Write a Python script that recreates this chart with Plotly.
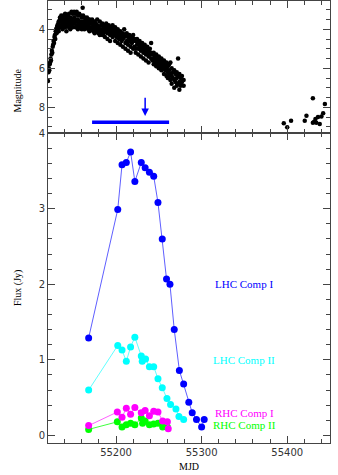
import plotly.graph_objects as go

# optical light curve (MJD, list of magnitudes read at that date)
lc_days = [55120.5, 55121, 55121.5, 55122, 55122.5, 55123, 55123.5, 55124, 55124.5, 55125,
           55125.5, 55126, 55126.5, 55127, 55127.5, 55128, 55128.5, 55129, 55129.5, 55130,
           55130.5, 55131, 55131.5, 55132, 55132.5,
           55133, 55134.5, 55136, 55137.5, 55139, 55140.5, 55142, 55143.5, 55145, 55146.5,
           55148, 55149.5, 55151, 55152.5, 55154, 55155.5, 55157, 55158.5, 55160, 55161,
           55161.5, 55163, 55164.5, 55166, 55167.5, 55169,
           55170.5, 55172, 55173.5, 55175, 55176.5, 55178, 55179.5, 55181, 55182.5, 55184,
           55185.5, 55187, 55188.5, 55190, 55191.5, 55193, 55194.5, 55196, 55197.5, 55199,
           55200.5, 55202, 55203.5, 55205, 55206.5, 55208, 55209.5, 55211, 55212.5, 55214,
           55215.5, 55217, 55218.5, 55220, 55221.5, 55223, 55224.5, 55226, 55227.5, 55229,
           55230.5, 55232, 55233.5, 55235, 55236.5, 55238, 55239.5, 55241, 55242.5, 55244,
           55245.5, 55247, 55248.5, 55250, 55251.5, 55253, 55254.5, 55256, 55257.5, 55259,
           55260.5, 55262, 55263.5, 55265, 55266.5, 55268, 55269.5, 55271, 55272.5, 55274,
           55275.5, 55277, 55279,
           55396, 55400, 55404.5, 55420.5, 55422.5, 55430, 55431.5, 55433, 55434, 55436,
           55438, 55440, 55442, 55444]
lc_mags = [[6.65], [6.2], [6.0], [6.1], [5.8], [5.7], [5.5], [5.6], [5.3], [5.1],
           [5.2], [4.9], [4.8], [4.6], [4.7], [4.4], [4.3], [4.5], [4.1], [4.0],
           [4.2], [3.9], [3.8], [4.0], [3.7],
           [3.6, 3.9, 4.1], [3.5, 3.8, 3.4], [3.3, 3.6, 3.9], [3.4, 3.7, 4.0], [3.3, 3.5, 3.8],
           [3.2, 3.6, 3.9], [3.4, 3.7, 4.1], [3.3, 3.5, 3.8], [3.2, 3.6, 3.9], [3.4, 3.7, 4.0],
           [3.1, 3.5, 3.8], [3.2, 3.6, 3.9], [3.1, 3.4, 3.7], [3.2, 3.5, 3.9], [3.1, 3.6, 3.8],
           [3.3, 3.5, 4.0], [3.2, 3.7, 3.9], [3.3, 3.6, 3.8], [3.4, 3.7, 4.0], [2.9],
           [3.3, 3.6, 3.9], [3.4, 3.8, 4.0], [3.5, 3.7, 3.9], [3.4, 3.6, 3.9], [3.5, 3.8, 4.0],
           [3.5, 3.7, 4.1],
           [3.6, 3.9], [3.7, 4.0, 3.5], [3.8, 4.1], [3.6, 3.9, 4.2], [3.7, 4.0],
           [3.5, 3.8, 4.1], [3.9, 4.2], [3.6, 4.0, 4.3], [3.8, 4.1], [3.7, 4.0, 4.3],
           [3.9, 4.2], [3.8, 4.1, 4.4], [3.7, 4.0], [3.9, 4.2, 4.5], [3.8, 4.1],
           [4.0, 4.3, 4.6], [3.9, 4.2], [3.8, 4.1, 4.4], [4.0, 4.3], [3.9, 4.2, 4.6],
           [4.1, 4.4], [4.0, 4.3, 4.7], [4.2, 4.5], [4.1, 4.4, 4.8], [4.3, 4.6],
           [4.2, 4.5, 4.9], [4.0, 4.4], [4.3, 4.7, 5.0], [4.2, 4.6], [4.4, 4.8, 5.1],
           [4.3, 4.6], [4.5, 4.9, 5.2], [4.4, 4.7], [4.3, 4.6, 5.0], [4.5, 4.9],
           [4.6, 5.0, 5.2], [4.5, 4.8], [4.7, 5.0, 5.3], [4.6, 4.9], [4.8, 5.1, 5.4],
           [4.7, 5.0], [4.9, 5.2, 5.5], [4.8, 5.1], [5.0, 5.3, 5.6], [4.9, 5.2],
           [5.1, 5.4, 5.7], [5.0, 5.3], [4.7, 5.2, 5.5], [5.3, 5.6], [5.2, 5.5, 5.8],
           [5.4, 5.7], [5.3, 5.6, 5.9], [5.5, 5.8], [5.4, 5.7, 6.0], [5.6, 5.9],
           [5.5, 5.8, 6.1], [5.7, 6.0], [5.6, 5.9, 6.3], [5.8, 6.1], [5.7, 6.0, 6.4],
           [5.9, 6.2, 6.5], [5.8, 6.1, 6.4], [5.7, 6.3, 6.6], [6.0, 6.4, 6.8], [6.2, 6.5],
           [6.1, 6.6, 7.0], [6.3, 6.7], [6.2, 6.5, 6.9], [5.5, 6.4, 6.8], [6.3, 6.7, 7.1],
           [6.5, 6.9], [6.4, 6.7], [6.6, 6.9],
           [8.82], [9.03], [8.69], [8.69], [8.43], [7.54, 8.79], [8.75], [8.6], [8.8], [8.5],
           [8.86], [8.48], [8.31], [7.83]]

# observing window bar and arrow (MJD, magnitude)
bar_mjd = [55172, 55262]
bar_mag = 8.77
arrow_mjd = 55234
arrow_mag = [7.44, 8.45]

# maser flux components
lhc1_mjd = [55168, 55202, 55207, 55212, 55217, 55222, 55229.5, 55234, 55239, 55244, 55249,
            55254, 55259, 55263, 55268, 55274, 55279, 55285, 55289, 55294, 55300, 55303]
lhc1_flux = [1.29, 2.99, 3.58, 3.61, 3.75, 3.36, 3.61, 3.54, 3.48, 3.43, 3.08,
             2.60, 2.07, 2.00, 1.40, 0.86, 0.68, 0.44, 0.30, 0.21, 0.11, 0.21]
lhc2_mjd = [55168, 55202, 55207, 55212, 55217, 55222, 55229.5, 55230.6, 55234.5, 55239, 55244,
            55249, 55254, 55259.5, 55263.7, 55270, 55273.5, 55279]
lhc2_flux = [0.60, 1.19, 1.13, 0.98, 1.17, 1.30, 1.05, 0.98, 1.01, 0.91, 0.91,
             0.75, 0.63, 0.49, 0.41, 0.35, 0.25, 0.21]
rhc1_mjd = [55168, 55201.5, 55207, 55212, 55217, 55222, 55229.5, 55234, 55239, 55244, 55249,
            55254.5, 55260, 55261]
rhc1_flux = [0.13, 0.31, 0.24, 0.36, 0.28, 0.37, 0.30, 0.33, 0.26, 0.32, 0.31,
             0.19, 0.18, 0.09]
rhc2_mjd = [55168, 55201.5, 55207, 55212, 55217, 55222, 55229.5, 55231, 55234, 55239, 55244,
            55249, 55254.5, 55260]
rhc2_flux = [0.08, 0.18, 0.11, 0.14, 0.16, 0.14, 0.23, 0.16, 0.19, 0.14, 0.15,
             0.16, 0.11, 0.11]

labels = ["LHC Comp I", "LHC Comp II", "RHC Comp I", "RHC Comp II"]
label_flux = [2.0, 1.0, 0.30, 0.14]
label_mjd = 55350
colors = ["#0000ff", "#00ffff", "#ff00ff", "#00ff00"]
line_colors = ["#5f5fff", "#60ffff", "#ff60ff", "#40ff40"]

lc_x, lc_y = [], []
for d, ms in zip(lc_days, lc_mags):
    for m in ms:
        lc_x.append(d)
        lc_y.append(m)

fig = go.Figure()
fig.add_trace(go.Scatter(x=lc_x, y=lc_y, mode="markers", xaxis="x2", yaxis="y2",
                         marker=dict(color="black", size=4.5, line_width=0)))
fig.add_trace(go.Scatter(x=bar_mjd, y=[bar_mag, bar_mag], mode="lines", xaxis="x2", yaxis="y2",
                         line=dict(color="#0000ff", width=3.5)))
fig.add_annotation(x=arrow_mjd, y=arrow_mag[1], ax=arrow_mjd, ay=arrow_mag[0],
                   xref="x2", yref="y2", axref="x2", ayref="y2", text="",
                   showarrow=True, arrowhead=2, arrowsize=1, arrowwidth=1.5, arrowcolor="#0000ff")

series = [(lhc1_mjd, lhc1_flux), (lhc2_mjd, lhc2_flux), (rhc1_mjd, rhc1_flux), (rhc2_mjd, rhc2_flux)]
for (xs, ys), c, lc in zip(series[::-1], colors[::-1], line_colors[::-1]):
    fig.add_trace(go.Scatter(x=xs, y=ys, mode="lines+markers",
                             line=dict(color=lc, width=1),
                             marker=dict(color=c, size=7, line_width=0)))

for txt, f, c in zip(labels, label_flux, colors):
    fig.add_annotation(x=label_mjd, y=f, xref="x", yref="y", text=txt, showarrow=False,
                       font=dict(family="Liberation Serif", size=11, color=c))

split = 0.7014
axis_common = dict(showline=True, linecolor="#444", linewidth=1, mirror="ticks",
                   ticks="inside", ticklen=7, tickcolor="#444", showgrid=False, zeroline=False,
                   automargin=False,
                   tickfont=dict(family="DejaVu Sans", size=10, color="#333"))
minor_common = dict(ticklen=4, tickcolor="#444", ticks="inside")

fig.update_layout(
    width=338, height=475, showlegend=False,
    margin=dict(l=48, r=8, t=1, b=32),
    plot_bgcolor="white", paper_bgcolor="white",
    xaxis=dict(range=[55120.5, 55450], dtick=100, tick0=55000, anchor="y", tickformat="d",
               minor=dict(dtick=20, **minor_common), **axis_common),
    xaxis2=dict(range=[55120.5, 55450], dtick=100, tick0=55000, anchor="y2", matches="x",
                showticklabels=False, minor=dict(dtick=20, **minor_common), **axis_common),
    yaxis=dict(range=[-0.1, 4.001], dtick=1, domain=[0, split], anchor="x",
               minor=dict(dtick=0.2, **minor_common), **axis_common),
    yaxis2=dict(range=[9.32, 2.55], dtick=2, tick0=0, domain=[split, 1], anchor="x2",
                minor=dict(dtick=0.5, **minor_common), **axis_common),
)

title_font = dict(family="Liberation Serif", size=10, color="black")
fig.add_annotation(text="Magnitude", xref="paper", yref="paper", x=0, y=(split + 1) / 2,
                   xshift=-38, textangle=-90, showarrow=False, font=title_font)
fig.add_annotation(text="Flux (Jy)", xref="paper", yref="paper", x=0, y=split / 2,
                   xshift=-38, textangle=-90, showarrow=False, font=title_font)
fig.add_annotation(text="MJD", xref="paper", yref="paper", x=0.5, y=0, yshift=-16,
                   yanchor="top", showarrow=False, font=title_font)

fig.write_html("out.html", config={"displayModeBar": False},
               post_script="document.body.style.margin='0';")
